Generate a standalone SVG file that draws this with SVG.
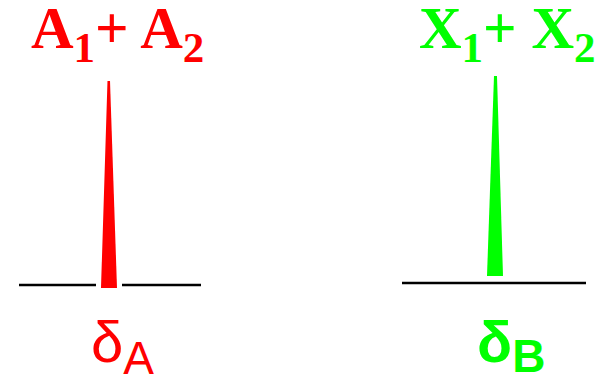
<svg xmlns="http://www.w3.org/2000/svg" width="596" height="376" viewBox="0 0 596 376">
<style>
.lbl{font-family:"Liberation Serif","Times New Roman",serif;font-weight:bold;font-size:59px}
.sub{font-size:43px}
.dl{font-family:"Liberation Sans",Arial,sans-serif}
.base{stroke:#000;stroke-width:2.6;fill:none}
.red{fill:#ff0000}
.green{fill:#00ff00}
</style>
<rect width="596" height="376" fill="#fff"/>
<g id="peakA">
<text class="lbl red" x="31" y="48">A<tspan class="sub" dy="14">1</tspan><tspan dy="-14">+ A</tspan><tspan class="sub" dy="14">2</tspan></text>
<polygon class="red" points="107.5,81 110,81 117,288 101,288"/>
<line class="base" x1="19" y1="285" x2="96" y2="285"/>
<line class="base" x1="122" y1="285" x2="201" y2="285"/>
<text class="dl red" x="91" y="362" font-size="58">δ<tspan font-size="46" dy="12">A</tspan></text>
</g>
<g id="peakB">
<text class="lbl green" x="419" y="48">X<tspan class="sub" dy="14">1</tspan><tspan dy="-14">+ X</tspan><tspan class="sub" dy="14">2</tspan></text>
<polygon class="green" points="494,76 497,76 503,276 487,276"/>
<line class="base" x1="402" y1="283" x2="586" y2="283"/>
<text class="dl green" x="477" y="362" font-size="58" font-weight="bold">δ<tspan font-size="46" dy="10">B</tspan></text>
</g>
<g id="connectors"/>
</svg>
